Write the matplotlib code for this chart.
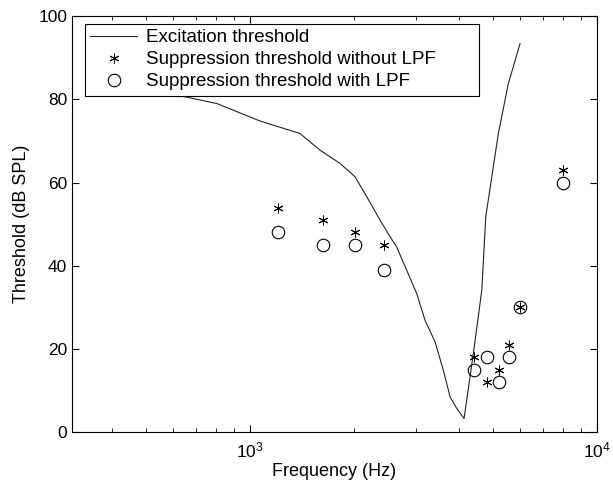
import matplotlib
matplotlib.use("Agg")
import matplotlib.pyplot as plt

plt.rcParams["font.family"] = ["Liberation Sans", "DejaVu Sans"]

# Excitation threshold curve
exc_freq = [500, 635, 802, 1069, 1393, 1591, 1817, 2007, 2170, 2369, 2532,
            2647, 2829, 3023, 3194, 3414, 3606, 3771, 3942, 4138, 4401,
            4654, 4779, 5195, 5551, 5999]
exc_db = [84, 80.8, 79, 74.8, 71.8, 67.8, 64.6, 61.4, 56.6, 51.0, 47,
          44.5, 38.9, 33.3, 26.9, 21.7, 14.9, 8.5, 5.7, 3.3, 18.9,
          34.1, 51.8, 71.8, 83.8, 93.4]

# Suppression thresholds
sup_freq = [1205, 1620, 2004, 2432, 4414, 4809, 5220, 5585, 6000, 8000]
sup_no_lpf = [54, 51, 48, 45, 18, 12, 15, 21, 30, 63]
sup_lpf_freq = [1205, 1620, 2004, 2432, 4430, 4809, 5220, 5585, 6000, 8000]
sup_lpf = [48, 45, 45, 39, 15, 18, 12, 18, 30, 60]

fig = plt.figure(figsize=(6.13, 4.9), dpi=100)
ax = fig.add_axes([0.1175, 0.118, 0.8565, 0.849])

ax.plot(exc_freq, exc_db, color="#222222", linewidth=0.8,
        label="Excitation threshold")
ax.plot(sup_freq, sup_no_lpf, linestyle="none", marker=(6, 2, 0),
        markersize=7, color="black", markeredgewidth=0.7,
        label="Suppression threshold without LPF")
ax.plot(sup_lpf_freq, sup_lpf, linestyle="none", marker="o",
        markersize=9, markerfacecolor="none", markeredgecolor="black",
        markeredgewidth=0.8, label="Suppression threshold with LPF")

ax.set_xscale("log")
ax.set_xlim(307, 10000)
ax.set_ylim(0, 100)
ax.set_yticks([0, 20, 40, 60, 80, 100])
ax.tick_params(which="both", direction="in", top=True, right=True,
               labelsize=12.5)
ax.tick_params(axis="x", which="major", pad=6)
ax.tick_params(which="major", length=5)
ax.tick_params(which="minor", length=3)
for s in ax.spines.values():
    s.set_linewidth(0.8)

ax.set_xlabel("Frequency (Hz)", fontsize=13, labelpad=2)
ax.set_ylabel("Threshold (dB SPL)", fontsize=13, labelpad=6)

leg = ax.legend(loc="upper left", bbox_to_anchor=(0.0248, 0.0, 0.7505, 0.981),
                mode="expand", fontsize=13.5, frameon=True, fancybox=False,
                borderpad=0.28, labelspacing=0.26, handlelength=2.5,
                handletextpad=0.45, borderaxespad=0)
leg.get_frame().set_edgecolor("black")
leg.get_frame().set_linewidth(0.8)
leg.get_frame().set_alpha(1)

fig.savefig("out.png", dpi=100)
